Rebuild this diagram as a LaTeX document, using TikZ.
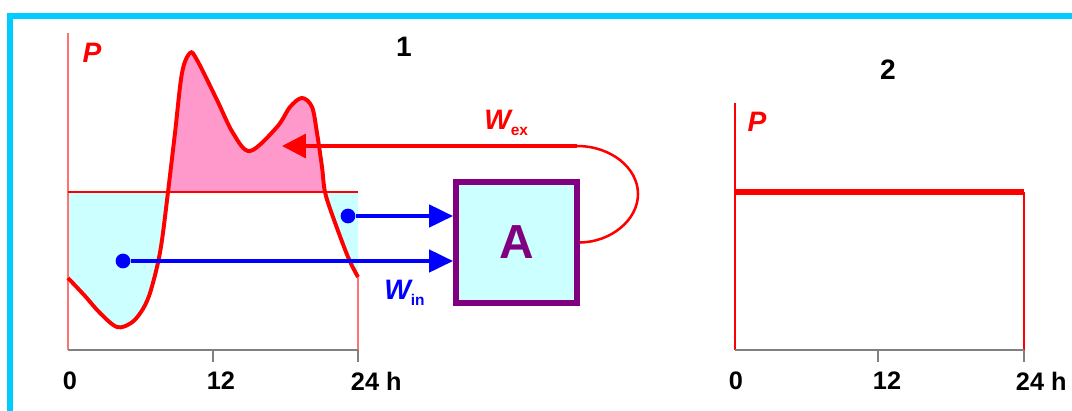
\documentclass[tikz,border=0pt]{standalone}
\usepackage{fontspec}
\setmainfont{Liberation Sans}
\usetikzlibrary{arrows.meta,positioning}
\definecolor{framecyan}{HTML}{00CCFF}
\definecolor{peakpink}{HTML}{FF99CC}
\definecolor{lightcyan}{HTML}{CCFFFF}
\definecolor{boxpurple}{HTML}{800080}
\newcommand{\wsub}[1]{\raisebox{-4.3pt}{\fontsize{11}{12}\selectfont\upshape #1}}

\begin{document}
\begin{tikzpicture}[x=0.025cm, y=-0.025cm,
    axisline/.style={red!55, line width=1.4pt},
    timeline/.style={gray, line width=1.6pt},
    ticklbl/.style={font=\fontsize{18}{20}\selectfont\bfseries},
    plbl/.style={text=red, font=\fontsize{20}{22}\selectfont\bfseries\itshape},
    wlbl/.style={font=\fontsize{20}{22}\selectfont\bfseries\itshape, anchor=west, inner sep=0pt},
    dot/.style={circle, fill=blue, inner sep=0pt, minimum size=10.5pt},
    inarrow/.style={-{Triangle[length=17pt, width=16pt]}, blue, line width=2.2pt},
    exarrow/.style={-{Triangle[length=17pt, width=17pt]}, red, line width=2.4pt},
    storage/.style={rectangle, draw=boxpurple, fill=lightcyan, line width=4.3pt,
        minimum size=3.025cm, inner sep=0pt, text=boxpurple,
        font=\fontsize{34}{36}\selectfont\bfseries},
    demand/.style={insert path={plot[smooth, tension=0.55] coordinates {
        (68,278) (85,296) (100,313) (117,327) (131,323) (141,312) (149,296)
        (157,267) (162,240) (168,192)
        (175,133) (182,73) (190,53) (197,60) (217,100) (233,133) (250,151)
        (277,127) (290,107) (302,98) (312,107) (317,133) (322,167) (325,192)
        (333,217) (348,257) (358,277)}}}
]
    \useasboundingbox (0,0) rectangle (1072,410);
    \clip (0,0) rectangle (1072,410);

    % Frame
    \draw[framecyan, line width=4.3pt] (10,16) rectangle (1100,440);

    % Chart 1: surplus and deficit areas
    \begin{scope}
        \clip (68,0) rectangle (358,192);
        \fill[peakpink] [demand] -- (358,192) -- (68,192) -- cycle;
    \end{scope}
    \begin{scope}
        \clip (68,192) rectangle (358,350);
        \fill[lightcyan] [demand] -- (358,192) -- (68,192) -- cycle;
    \end{scope}

    % Chart 1: axes
    \draw[axisline] (68,33) -- (68,350);
    \draw[axisline] (358,277) -- (358,350);
    \draw[timeline] (68,350) -- (358,350);
    \draw[timeline] (213,350) -- (213,362);
    \draw[timeline] (358,350) -- (358,362);
    \draw[red, line width=2pt] (68,192) -- (358,192);
    \draw[red, line width=2.8pt] [demand];

    \node[plbl] (p1) at (92,53) {P};
    \node[ticklbl] (t1a) at (70,381) {0};
    \node[ticklbl] (t1b) at (221,381) {12};
    \node[ticklbl, anchor=west] (t1c) at (346,381) {24 h};
    \node[font=\fontsize{20}{22}\selectfont\bfseries] (n1) at (404,47) {1};

    % Storage
    \node[storage] (box) at (516.5,242.5) {A};
    \node[dot] (din1) at (348,216) {};
    \node[dot] (din2) at (123,261) {};
    \draw[inarrow] (din1) -- (din1 -| box.west);
    \draw[inarrow] (din2) -- (din2 -| box.west);
    \node[wlbl, text=blue] (win) at (384,293) {W\wsub{in}};

    \coordinate (wexstart) at (577,146);
    \coordinate (wexend) at (282,146);
    \draw[exarrow] (wexstart) -- (wexend);
    \draw[red, line width=1.8pt] (box.east) .. controls (611,242) and (638,220) .. (638,194)
        .. controls (638,168) and (611,146) .. (wexstart);
    \node[wlbl, text=red] (wex) at (484,123) {W\wsub{ex}};

    % Chart 2
    \draw[red, line width=1.4pt] (735,103) -- (735,350);
    \draw[red, line width=1.4pt] (1024,192) -- (1024,350);
    \draw[red, line width=3.6pt] (735,192) -- (1024,192);
    \draw[timeline] (735,350) -- (1024,350);
    \draw[timeline] (878,350) -- (878,362);
    \draw[timeline] (1024,350) -- (1024,362);

    \node[plbl] (p2) at (757,122) {P};
    \node[ticklbl] (t2a) at (736,381) {0};
    \node[ticklbl] (t2b) at (887,381) {12};
    \node[ticklbl, anchor=west] (t2c) at (1011,381) {24 h};
    \node[font=\fontsize{20}{22}\selectfont\bfseries] (n2) at (888,70) {2};
\end{tikzpicture}
\end{document}
